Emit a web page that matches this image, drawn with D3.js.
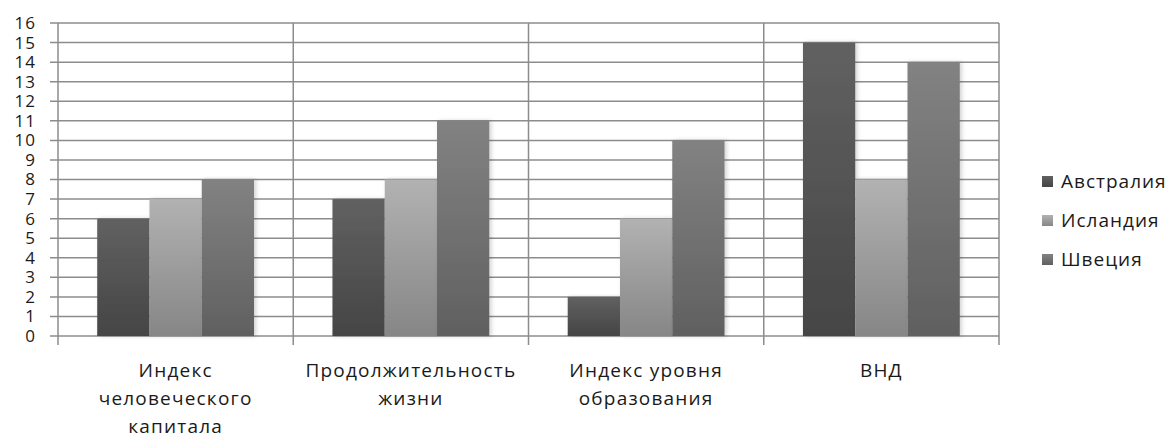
<!DOCTYPE html>
<html lang="ru">
<head>
  <meta charset="UTF-8">
  <title>Индексы</title>
  <style>
    body { margin: 0; background: #fff; }
    text { font-family: 'Open Sans', 'DejaVu Sans', sans-serif; fill: #1a1a1a; }
  </style>
</head>
<body>
  <svg width="1173" height="433"></svg>

  <script src="https://d3js.org/d3.v7.min.js"></script>
  <script>
  const categories = [
    ["Индекс", "человеческого", "капитала"],
    ["Продолжительность", "жизни"],
    ["Индекс уровня", "образования"],
    ["ВНД"]
  ];
  const seriesNames = ["Австралия", "Исландия", "Швеция"];
  const australia = [6, 7, 2, 15];
  const iceland = [7, 8, 6, 8];
  const sweden = [8, 11, 10, 14];
  const yTicks = d3.range(0, 17);

  const series = [australia, iceland, sweden];
  const colors = [["#616161", "#454545"], ["#b2b2b2", "#868686"], ["#828282", "#606060"]];

  const margin = { left: 58, top: 23, right: 174, bottom: 97 };
  const width = 1173 - margin.left - margin.right;
  const height = 433 - margin.top - margin.bottom;

  const svg = d3.select("svg");
  const defs = svg.append("defs");
  colors.forEach((c, i) => {
    const g = defs.append("linearGradient").attr("id", "grad" + i)
      .attr("x1", 0).attr("y1", 0).attr("x2", 0).attr("y2", 1);
    g.append("stop").attr("offset", "0%").attr("stop-color", c[0]);
    g.append("stop").attr("offset", "100%").attr("stop-color", c[1]);
  });
  const f = defs.append("filter").attr("id", "shadow")
    .attr("x", "-20%").attr("y", "-5%").attr("width", "140%").attr("height", "110%");
  f.append("feDropShadow").attr("dx", 2).attr("dy", 0).attr("stdDeviation", 2)
    .attr("flood-color", "#000").attr("flood-opacity", 0.18);

  const chart = svg.append("g").attr("transform", `translate(${margin.left},${margin.top})`);

  const x0 = d3.scaleBand().domain(d3.range(categories.length)).range([0, width]).paddingInner(0).paddingOuter(0);
  const x1 = d3.scaleBand().domain(d3.range(series.length))
    .range([x0.bandwidth() * 0.1667, x0.bandwidth() * 0.8333]);
  const y = d3.scaleLinear().domain([0, 16]).range([height, 0]);

  // horizontal gridlines + ticks
  chart.append("g").selectAll("line").data(yTicks).enter().append("line")
    .attr("x1", -8).attr("x2", width)
    .attr("y1", d => y(d)).attr("y2", d => y(d))
    .attr("stroke", "#8c8c8c").attr("stroke-width", 1.5);

  // vertical gridlines (category boundaries)
  chart.append("g").selectAll("line").data(d3.range(categories.length + 1)).enter().append("line")
    .attr("x1", d => d * x0.bandwidth()).attr("x2", d => d * x0.bandwidth())
    .attr("y1", 0).attr("y2", height + 9)
    .attr("stroke", "#8c8c8c").attr("stroke-width", 1.5);

  // y labels
  chart.append("g").selectAll("text").data(yTicks).enter().append("text")
    .attr("x", -22).attr("y", d => y(d))
    .attr("dy", "0.35em").attr("text-anchor", "end")
    .style("font-size", "17px").style("letter-spacing", "1px")
    .text(d => d);

  // bars
  const groups = chart.selectAll(".cat").data(categories).enter().append("g")
    .attr("transform", (d, i) => `translate(${x0(i)},0)`);
  groups.selectAll("rect").data((d, i) => series.map((s, j) => ({ j, v: s[i] }))).enter().append("rect")
    .attr("x", d => x1(d.j)).attr("width", x1.bandwidth())
    .attr("y", d => y(d.v)).attr("height", d => height - y(d.v))
    .attr("fill", d => `url(#grad${d.j})`)
    .attr("filter", "url(#shadow)");

  // category labels
  groups.append("text")
    .attr("x", x0.bandwidth() / 2).attr("y", height + 41)
    .attr("text-anchor", "middle")
    .style("font-size", "19px").style("letter-spacing", "1.2px")
    .selectAll("tspan").data(d => d).enter().append("tspan")
    .attr("x", x0.bandwidth() / 2).attr("dy", (d, i) => i === 0 ? 0 : 28)
    .text(d => d);

  // legend
  const legend = svg.append("g").attr("transform", "translate(1042,181)");
  const li = legend.selectAll("g").data(seriesNames).enter().append("g")
    .attr("transform", (d, i) => `translate(0,${i * 39})`);
  li.append("rect").attr("x", 0).attr("y", -5).attr("width", 11).attr("height", 11)
    .attr("fill", (d, i) => `url(#grad${i})`);
  li.append("text").attr("x", 19).attr("dy", "0.35em")
    .style("font-size", "19px").style("letter-spacing", "1px").text(d => d);
  </script>
</body>
</html>
